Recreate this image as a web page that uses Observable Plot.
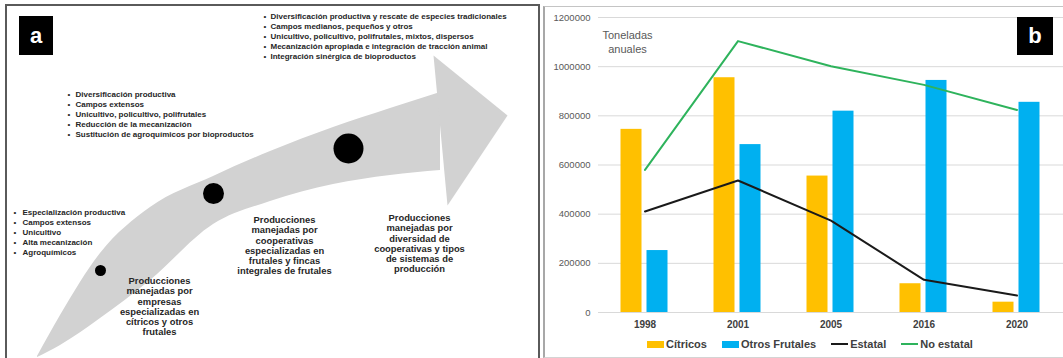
<!DOCTYPE html>
<html>
<head>
<meta charset="utf-8">
<script src="https://cdn.jsdelivr.net/npm/d3@7"></script>
<script src="https://cdn.jsdelivr.net/npm/@observablehq/plot@0.6"></script>
<style>
  html, body { margin: 0; padding: 0; background: #fff; }
  body { width: 1063px; height: 358px; overflow: hidden; position: relative; font-family: "Liberation Sans", Arial, sans-serif; }
  .abs { position: absolute; }
  #frameA { left: 5px; top: 4px; width: 535px; height: 380px; border: 2px solid #5a5a5a; box-sizing: border-box; }
  #frameB { left: 543px; top: 6px; width: 540px; height: 352px; border-left: 2px solid #a8a8a8; border-top: 1px solid #c4c4c4; border-bottom: 1px solid #d4d4d4; box-sizing: border-box; }
  #panelA { left: 0; top: 0; }
  #panelB { left: 540px; top: 0; }
  .tag { background: #000; color: #fff; font-weight: bold; font-size: 22px; display: flex; align-items: center; justify-content: center; }
  #tagA { left: 19px; top: 16px; width: 34px; height: 39px; }
  #tagB { left: 1017px; top: 17px; width: 36px; height: 38px; }
  #legendB { left: 647px; top: 337px; height: 14px; display: flex; align-items: center; font-weight: bold; font-size: 11px; color: #404040; white-space: nowrap; }
  #legendB .item { display: flex; align-items: center; margin-right: 15px; }
  #legendB .sw { width: 17px; margin-right: 2px; }
</style>
</head>
<body>
<div id="frameA" class="abs"></div>
<div id="frameB" class="abs"></div>
<div id="panelA" class="abs"></div>
<div id="panelB" class="abs"></div>
<div id="tagA" class="abs tag">a</div>
<div id="tagB" class="abs tag">b</div>
<div id="legendB" class="abs"></div>
<script>
// ---------- Panel b data ----------
const years = ["1998", "2001", "2005", "2016", "2020"];
const citricos = [745000, 955000, 555000, 117000, 42000];
const otrosFrutales = [252000, 683000, 819000, 944000, 855000];
const estatal = [411000, 537000, 374000, 133000, 69000];
const noEstatal = [580000, 1104000, 1002000, 926000, 824000];
const yTicks = [0, 200000, 400000, 600000, 800000, 1000000, 1200000];
const seriesNames = ["Cítricos", "Otros Frutales", "Estatal", "No estatal"];
const seriesKinds = ["bar", "bar", "line", "line"];
const seriesColors = ["#FFC000", "#00B0F0", "#1a1a1a", "#2eb35c"];
const yLabel = "Toneladas\nanuales";

// ---------- Panel a data ----------
const arrowX = [37, 60, 100, 150, 213, 270, 333, 390, 440];
const arrowTop = [356, 315, 253, 207, 176, 151, 127, 108, 92];
const arrowBottom = [357, 345, 318, 280, 224, 201, 184, 175, 170];
const headX = [433, 507, 447];
const headY = [55, 115, 205];
const stageX = [100, 213, 348];
const stageY = [270, 193, 148];
const stageR = [5.5, 10.5, 15];

const listItems = [
  ["Especialización productiva", "Campos extensos", "Unicultivo", "Alta mecanización", "Agroquímicos"],
  ["Diversificación productiva", "Campos extensos", "Unicultivo, policultivo, polifrutales", "Reducción de la mecanización", "Sustitución de agroquímicos por bioproductos"],
  ["Diversificación productiva y rescate de especies tradicionales", "Campos medianos, pequeños y otros", "Unicultivo, policultivo, polifrutales, mixtos, dispersos", "Mecanización apropiada e integración de tracción animal", "Integración sinérgica de bioproductos"]
];
const listBulletX = [13, 67, 263];
const listTextX = [22, 75, 270];
const listCenterY = [231, 113, 35];

const stageLabels = [
  ["Producciones", "manejadas por", "empresas", "especializadas en", "cítricos y otros", "frutales"],
  ["Producciones", "manejadas por", "cooperativas", "especializadas en", "frutales y fincas", "integrales de frutales"],
  ["Producciones", "manejadas por", "diversidad de", "cooperativas y tipos", "de sistemas de", "producción"]
];
const labelX = [159, 284, 419];
const labelY = [306, 245, 243];

const FONT = "Liberation Sans, Arial, sans-serif";

// ---------- Panel a ----------
const arrowBody = arrowX.map((x, i) => ({x, y1: arrowTop[i], y2: arrowBottom[i]}));
const arrowHead = headX.map((x, i) => ({x, y: headY[i]}));
const stages = stageX.map((x, i) => ({x, y: stageY[i], r: stageR[i]}));
const lists = listItems.map((items, i) => ({
  bx: listBulletX[i], tx: listTextX[i], y: listCenterY[i],
  bullets: items.map(() => "•").join("\n"),
  text: items.join("\n")
}));
const labels = stageLabels.map((lines, i) => ({x: labelX[i], y: labelY[i], text: lines.join("\n")}));

const chartA = Plot.plot({
  width: 540, height: 358,
  margin: 0,
  style: {fontFamily: FONT, background: "transparent", overflow: "visible"},
  x: {domain: [0, 540], range: [0, 540], axis: null},
  y: {domain: [0, 358], range: [0, 358], axis: null},
  r: {type: "identity"},
  marks: [
    Plot.areaY(arrowBody, {x: "x", y1: "y1", y2: "y2", fill: "#d2d2d2", curve: "monotone-x"}),
    Plot.line(arrowHead, {x: "x", y: "y", fill: "#d2d2d2", stroke: "none", curve: "linear"}),
    Plot.dot(stages, {x: "x", y: "y", r: "r", fill: "#000", stroke: "none"}),
    Plot.text(lists, {x: "bx", y: "y", text: "bullets", textAnchor: "start", lineAnchor: "middle", fontSize: 8, lineHeight: 1.25, fill: "#262626"}),
    Plot.text(lists, {x: "tx", y: "y", text: "text", textAnchor: "start", lineAnchor: "middle", fontSize: 8, fontWeight: "bold", lineHeight: 1.25, fill: "#262626"}),
    Plot.text(labels, {x: "x", y: "y", text: "text", textAnchor: "middle", lineAnchor: "middle", fontSize: 9.4, fontWeight: "bold", lineHeight: 1.09, fill: "#262626"})
  ]
});
document.getElementById("panelA").appendChild(chartA);

// ---------- Panel b ----------
const rows = years.map((year, i) => ({year, citricos: citricos[i], otros: otrosFrutales[i], estatal: estatal[i], noEstatal: noEstatal[i]}));

const chartB = Plot.plot({
  width: 523, height: 330,
  marginLeft: 58, marginRight: 0, marginTop: 17, marginBottom: 18,
  style: {fontFamily: FONT, background: "transparent", overflow: "visible"},
  x: {type: "band", domain: years, padding: 0},
  y: {domain: [0, 1200000]},
  marks: [
    Plot.gridY(yTicks, {stroke: "#d9d9d9", strokeOpacity: 1, strokeWidth: 1}),
    Plot.barY(rows, {x: "year", y: "citricos", fill: seriesColors[0], insetLeft: 22.5, insetRight: 49.5}),
    Plot.barY(rows, {x: "year", y: "otros", fill: seriesColors[1], insetLeft: 48.5, insetRight: 23.5}),
    Plot.line(rows, {x: "year", y: "estatal", stroke: seriesColors[2], strokeWidth: 2}),
    Plot.line(rows, {x: "year", y: "noEstatal", stroke: seriesColors[3], strokeWidth: 2}),
    Plot.axisX({tickSize: 0, tickPadding: 8, fontSize: 10, fontWeight: "bold", fill: "#404040", label: null}),
    Plot.axisY(yTicks, {tickSize: 0, tickPadding: 8, fontSize: 9.5, fill: "#595959", tickFormat: d3.format("d"), label: null}),
    Plot.text([yLabel], {frameAnchor: "top-left", dx: 29, dy: 12, textAnchor: "middle", lineAnchor: "top", fontSize: 11, lineHeight: 1.27, fill: "#595959"})
  ]
});
document.getElementById("panelB").appendChild(chartB);

// ---------- Legend ----------
const legend = document.getElementById("legendB");
seriesNames.forEach((name, i) => {
  const item = document.createElement("div");
  item.className = "item";
  const sw = document.createElement("span");
  sw.className = "sw";
  sw.style.height = seriesKinds[i] === "bar" ? "7px" : "2px";
  sw.style.background = seriesColors[i];
  const t = document.createElement("span");
  t.textContent = name;
  item.appendChild(sw);
  item.appendChild(t);
  legend.appendChild(item);
});
</script>
</body>
</html>
